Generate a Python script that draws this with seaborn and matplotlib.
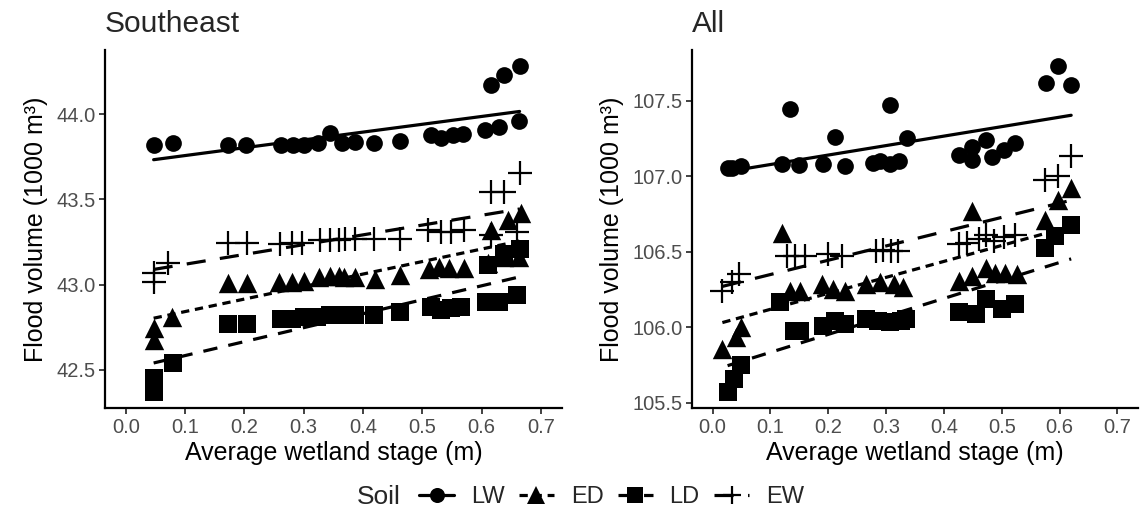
import numpy as np
import pandas as pd
import matplotlib
matplotlib.use("Agg")
import matplotlib.pyplot as plt
from matplotlib.lines import Line2D
import seaborn as sns

# ---------------- data ----------------
soils = ["LW", "ED", "LD", "EW"]
panels = ["Southeast", "All"]

se_lw_x = [0.047, 0.079, 0.172, 0.203, 0.261, 0.282, 0.301, 0.324, 0.344, 0.365, 0.387, 0.418,
           0.463, 0.514, 0.531, 0.551, 0.568, 0.605, 0.615, 0.629, 0.638, 0.663, 0.664]
se_lw_y = [43.822, 43.832, 43.822, 43.818, 43.818, 43.822, 43.818, 43.828, 43.890, 43.828, 43.838, 43.832,
           43.843, 43.877, 43.858, 43.877, 43.881, 43.906, 44.174, 43.922, 44.229, 43.961, 44.281]

se_ed_x = [0.047, 0.047, 0.078, 0.173, 0.204, 0.258, 0.280, 0.300, 0.325, 0.345, 0.359, 0.368, 0.387,
           0.421, 0.463, 0.511, 0.528, 0.545, 0.570, 0.610, 0.615, 0.638, 0.644, 0.663, 0.666]
se_ed_y = [42.675, 42.744, 42.812, 43.008, 43.008, 43.017, 43.017, 43.023, 43.046, 43.050, 43.050, 43.046, 43.043,
           43.031, 43.056, 43.090, 43.105, 43.096, 43.096, 43.125, 43.320, 43.164, 43.380, 43.164, 43.418]

se_ld_x = [0.047, 0.047, 0.079, 0.173, 0.204, 0.261, 0.280, 0.300, 0.322, 0.345, 0.362, 0.370, 0.387,
           0.418, 0.463, 0.514, 0.531, 0.548, 0.565, 0.607, 0.629, 0.610, 0.638, 0.660, 0.664]
se_ld_y = [42.37, 42.45, 42.54, 42.77, 42.77, 42.80, 42.80, 42.81, 42.81, 42.82, 42.82, 42.82, 42.82,
           42.82, 42.84, 42.87, 42.85, 42.86, 42.87, 42.90, 42.90, 43.115, 43.18, 42.94, 43.21]

se_ew_x = [0.047, 0.047, 0.072, 0.173, 0.204, 0.260, 0.280, 0.297, 0.328, 0.345, 0.359, 0.370, 0.387,
           0.418, 0.463, 0.509, 0.531, 0.548, 0.570, 0.615, 0.615, 0.638, 0.660, 0.664]
se_ew_y = [43.017, 43.066, 43.125, 43.246, 43.246, 43.238, 43.243, 43.246, 43.26, 43.26, 43.26, 43.27, 43.27,
           43.27, 43.27, 43.32, 43.31, 43.31, 43.32, 43.545, 43.29, 43.545, 43.31, 43.656]

all_lw_x = [0.026, 0.034, 0.049, 0.120, 0.134, 0.149, 0.191, 0.212, 0.229, 0.277, 0.289, 0.306, 0.306,
            0.323, 0.337, 0.426, 0.449, 0.449, 0.472, 0.483, 0.503, 0.523, 0.577, 0.597, 0.620]
all_lw_y = [107.055, 107.055, 107.07, 107.084, 107.45, 107.077, 107.084, 107.264, 107.07, 107.088, 107.10, 107.08, 107.473,
            107.10, 107.253, 107.143, 107.198, 107.11, 107.242, 107.132, 107.176, 107.22, 107.616, 107.73, 107.605]

all_ed_x = [0.017, 0.040, 0.049, 0.120, 0.134, 0.151, 0.189, 0.209, 0.229, 0.266, 0.290, 0.314, 0.330,
            0.426, 0.448, 0.449, 0.472, 0.489, 0.506, 0.526, 0.575, 0.597, 0.620]
all_ed_y = [105.857, 105.934, 106.0, 106.627, 106.24, 106.24, 106.286, 106.253, 106.24, 106.286, 106.297, 106.286, 106.27,
            106.307, 106.77, 106.34, 106.396, 106.363, 106.363, 106.35, 106.714, 106.846, 106.923]

all_ld_x = [0.026, 0.037, 0.049, 0.117, 0.140, 0.151, 0.191, 0.212, 0.229, 0.266, 0.286, 0.306, 0.326,
            0.334, 0.426, 0.455, 0.472, 0.500, 0.523, 0.575, 0.592, 0.620]
all_ld_y = [105.571, 105.659, 105.747, 106.165, 105.978, 105.978, 106.01, 106.044, 106.022, 106.055, 106.044, 106.033, 106.044,
            106.055, 106.099, 106.088, 106.187, 106.12, 106.154, 106.528, 106.604, 106.68]

all_ew_x = [0.017, 0.034, 0.046, 0.129, 0.143, 0.160, 0.200, 0.223, 0.283, 0.294, 0.309, 0.320,
            0.426, 0.440, 0.460, 0.472, 0.486, 0.503, 0.523, 0.575, 0.597, 0.620]
all_ew_y = [106.24, 106.297, 106.35, 106.472, 106.472, 106.472, 106.483, 106.472, 106.505, 106.51, 106.505, 106.505,
            106.55, 106.56, 106.582, 106.61, 106.57, 106.6, 106.615, 106.978, 107.0, 107.137]

x_ticks = [0.0, 0.1, 0.2, 0.3, 0.4, 0.5, 0.6, 0.7]
se_y_ticks = [42.5, 43.0, 43.5, 44.0]
all_y_ticks = [105.5, 106.0, 106.5, 107.0, 107.5]

frames = []
for panel, series in [("Southeast", [(se_lw_x, se_lw_y), (se_ed_x, se_ed_y), (se_ld_x, se_ld_y), (se_ew_x, se_ew_y)]),
                      ("All", [(all_lw_x, all_lw_y), (all_ed_x, all_ed_y), (all_ld_x, all_ld_y), (all_ew_x, all_ew_y)])]:
    for soil, (xs, ys) in zip(soils, series):
        frames.append(pd.DataFrame({"panel": panel, "Soil": soil, "stage": xs, "volume": ys}))
df = pd.concat(frames, ignore_index=True)

# ---------------- style ----------------
sns.set_theme(style="ticks")
plt.rcParams["font.family"] = ["Liberation Sans", "DejaVu Sans"]

markers = {"LW": "o", "ED": "^", "LD": "s", "EW": "+"}
msizes = {"LW": 145, "ED": 195, "LD": 150, "EW": 290}
lstyles = {"LW": "-", "ED": (0, (2.6, 1.8)), "LD": (0, (4.5, 3.5)), "EW": (0, (6, 4.5))}
LW_LINE = 2.3

fig = plt.figure(figsize=(11.4, 5.16), dpi=100)
W, H = 1140, 516
rects = {"Southeast": [105 / W, (H - 408.3) / H, 456.7 / W, 358.3 / H],
         "All": [692.3 / W, (H - 408.3) / H, 445.4 / W, 358.3 / H]}
yticks = {"Southeast": se_y_ticks, "All": all_y_ticks}

for panel in panels:
    ax = fig.add_axes(rects[panel])
    sub = df[df.panel == panel]
    for soil in soils:
        d = sub[sub.Soil == soil]
        sns.regplot(data=d, x="stage", y="volume", ax=ax, scatter=False, ci=None,
                    color="black", line_kws=dict(linewidth=LW_LINE, linestyle=lstyles[soil]))
        if markers[soil] == "+":
            sns.scatterplot(data=d, x="stage", y="volume", ax=ax, marker="+", s=msizes[soil],
                            color="black", linewidth=1.6, zorder=3)
        else:
            sns.scatterplot(data=d, x="stage", y="volume", ax=ax, marker=markers[soil], s=msizes[soil],
                            color="black", edgecolor="black", linewidth=0, zorder=3)
    ymin, ymax = sub.volume.min(), sub.volume.max()
    pad = 0.05 * (ymax - ymin)
    ax.set_ylim(ymin - pad, ymax + pad)
    ax.set_xlim(-0.035, 0.735)
    ax.set_xticks(x_ticks)
    ax.set_xticklabels([f"{t:.1f}" for t in x_ticks])
    ax.set_yticks(yticks[panel])
    ax.set_yticklabels([f"{t:.1f}" for t in yticks[panel]])
    ax.tick_params(axis="both", labelsize=14.5, labelcolor="#4D4D4D", color="#333333",
                   length=4, width=1.3, pad=3)
    for s in ["left", "bottom"]:
        ax.spines[s].set_linewidth(1.6)
        ax.spines[s].set_color("black")
    sns.despine(ax=ax)
    ax.set_xlabel("Average wetland stage (m)", fontsize=18, color="black", labelpad=3)
    ax.set_ylabel("Flood volume (1000 m³)", fontsize=18, color="black", labelpad=6)
    ax.set_title(panel, loc="left", fontsize=21.5, pad=13)

# legend
handles = [Line2D([0], [0], color="black", linewidth=LW_LINE, linestyle=lstyles[s],
                  marker=markers[s], markersize=(np.sqrt(msizes[s]) * (0.9 if s != "EW" else 0.8)),
                  markeredgewidth=(1.6 if s == "EW" else 0)) for s in soils]
fig.legend(handles, soils, loc="center left", bbox_to_anchor=(419 / W, 1 - 497 / H), ncol=4,
           frameon=False, fontsize=17, handlelength=1.5, handletextpad=0.7, columnspacing=0.6,
           borderpad=0, borderaxespad=0)
fig.text(357 / W, 1 - 497 / H, "Soil", fontsize=19, ha="left", va="center")

fig.savefig("out.png", dpi=100)
